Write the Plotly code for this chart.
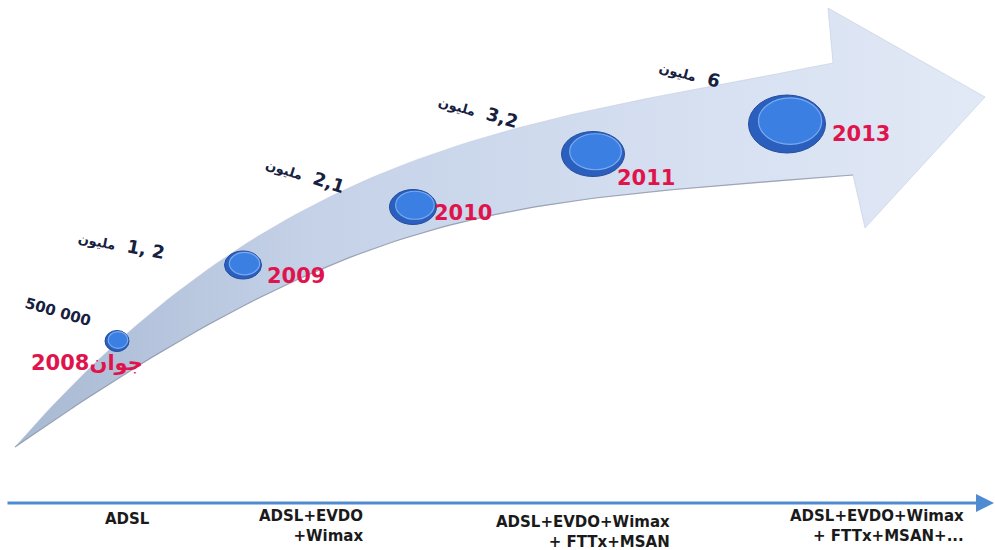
import numpy as np
import plotly.graph_objects as go

# ---------------- data ----------------
years = ["2008", "2009", "2010", "2011", "2013"]
year_prefix = ["جوان", "", "", "", ""]
subscribers = ["500 000", "1, 2", "2,1", "3,2", "6"]
unit = ["", "مليون", "مليون", "مليون", "مليون"]
technologies = ["ADSL", "ADSL+EVDO<br>+Wimax", "ADSL+EVDO+Wimax<br>+ FTTx+MSAN",
                "ADSL+EVDO+Wimax<br>+ FTTx+MSAN+..."]

# ---------------- layout (pixel positions of the infographic) ----------------
ball_xy = [(117, 341), (243, 265), (413, 207), (593, 154), (787, 124)]
ball_wh = [(24, 21), (37, 28), (47, 35), (63, 45), (77, 58)]
year_lbl_xy = [(29, 363), (265, 276), (432, 213), (615, 178), (830, 134)]
val_lbl_xy = [(58, 312), (122, 244), (305, 174), (478, 110), (690, 73)]
val_angle = [16, 11, 18, 16, 15]
tech_xy = [(152, 519), (365, 526), (672, 532), (966, 526)]

RED = "#e0144c"
NAVY = "#16203f"


def bez(p0, p1, p2, p3, n=80):
    t = np.linspace(0, 1, n)[:, None]
    p0, p1, p2, p3 = map(np.array, (p0, p1, p2, p3))
    return ((1 - t) ** 3) * p0 + 3 * ((1 - t) ** 2) * t * p1 + 3 * (1 - t) * t ** 2 * p2 + t ** 3 * p3


tail = (15, 447)
up_end = (833, 63)
lo_end = (853, 175)
upper = bez(tail, (285, 137), (533, 123), up_end)
lower = bez(tail, (370, 200), (503, 203), lo_end)
head = np.array([up_end, (828, 8), (985, 97), (865, 228), lo_end])
poly = np.vstack([upper, head, lower[::-1]])

fig = go.Figure()
fig.add_trace(go.Scatter(
    x=poly[:, 0], y=poly[:, 1], mode="lines", fill="toself",
    line=dict(width=0.6, color="rgba(190,200,220,0.9)"),
    fillgradient=dict(type="horizontal",
                      colorscale=[[0, "#a8b9d3"], [0.3, "#c4d1e7"], [0.7, "#d6e0f1"], [1, "#e2e9f6"]]),
    hoverinfo="skip", showlegend=False))
fig.add_trace(go.Scatter(
    x=lower[:, 0], y=lower[:, 1], mode="lines",
    line=dict(width=1.2, color="rgba(110,120,140,0.55)"),
    hoverinfo="skip", showlegend=False))

shapes = []
for (cx, cy), (w, h) in zip(ball_xy, ball_wh):
    shapes.append(dict(type="circle", xref="x", yref="y",
                       x0=cx - w / 2, x1=cx + w / 2, y0=cy - h / 2, y1=cy + h / 2,
                       fillcolor="#2b5fbe", line=dict(color="#244f9f", width=1)))
    iw, ih = w * 0.82, h * 0.8
    icx, icy = cx + w * 0.04, cy - h * 0.05
    shapes.append(dict(type="circle", xref="x", yref="y",
                       x0=icx - iw / 2, x1=icx + iw / 2, y0=icy - ih / 2, y1=icy + ih / 2,
                       fillcolor="#3c7fe3", line=dict(color="#7aaaf0", width=1.2)))

annotations = []
for i, y in enumerate(years):
    txt = y + (year_prefix[i] if year_prefix[i] else "")
    x, yy = year_lbl_xy[i]
    annotations.append(dict(x=x, y=yy, xref="x", yref="y", text=f"<b>{txt}</b>", showarrow=False,
                            xanchor="left", yanchor="middle",
                            font=dict(family="DejaVu Sans", size=21, color=RED)))

for i, v in enumerate(subscribers):
    x, yy = val_lbl_xy[i]
    if unit[i]:
        txt = f"<b><span style='font-size:13px'>{unit[i]}</span></b>\u200e  <b>{v}</b>"
    else:
        txt = f"<b>{v}</b>"
    annotations.append(dict(x=x, y=yy, xref="x", yref="y", text=txt, showarrow=False,
                            textangle=val_angle[i], xanchor="center", yanchor="middle",
                            font=dict(family="DejaVu Sans", size=18 if unit[i] else 15, color=NAVY)))

for i, t in enumerate(technologies):
    x, yy = tech_xy[i]
    annotations.append(dict(x=x, y=yy, xref="x", yref="y", text=f"<b>{t}</b>", showarrow=False,
                            xanchor="right", yanchor="middle", align="right",
                            font=dict(family="DejaVu Sans", size=15, color="#1a1a1a")))

# bottom timeline arrow
annotations.append(dict(x=994, y=503, ax=6, ay=503, xref="x", yref="y", axref="x", ayref="y",
                        text="", showarrow=True, arrowhead=2, arrowsize=1.2, arrowwidth=3,
                        arrowcolor="#4e8bd0"))

fig.update_layout(
    width=995, height=550, margin=dict(l=0, r=0, t=0, b=0),
    paper_bgcolor="white", plot_bgcolor="white",
    xaxis=dict(range=[0, 995], visible=False, fixedrange=True),
    yaxis=dict(range=[550, 0], visible=False, fixedrange=True),
    shapes=shapes, annotations=annotations, showlegend=False,
)

fig.write_html("out.html")
